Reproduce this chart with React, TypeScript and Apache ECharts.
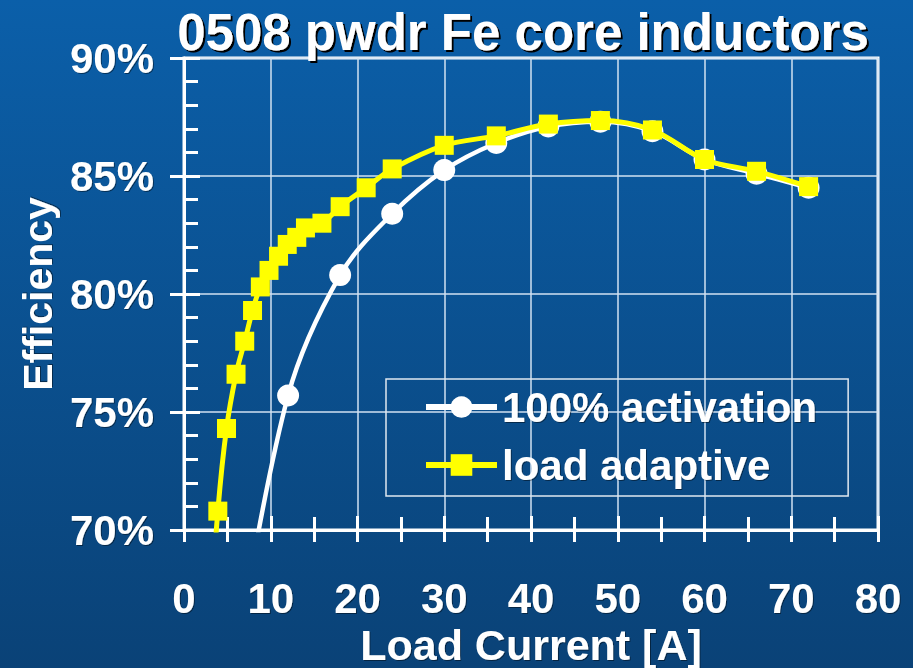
import React, { useEffect, useRef } from "react";
import * as echarts from "echarts";

const titleText = "0508 pwdr Fe core inductors";
const xAxisName = "Load Current [A]";
const yAxisName = "Efficiency";

const fullActCurrent = [6, 12, 18, 24, 30, 36, 42, 48, 54, 60, 66, 72];
const fullActEff = [64.5, 75.7, 80.8, 83.4, 85.25, 86.4, 87.1, 87.3, 86.9, 85.7, 85.1, 84.5];

const adaptiveCurrent = [3, 3.9, 4.9, 6, 7, 7.9, 8.8, 9.8, 10.9, 11.9, 13, 14, 15.9, 18, 21, 24, 30, 36, 42, 48, 54, 60, 66, 72];
const adaptiveEff = [66, 70.8, 74.3, 76.6, 78.0, 79.3, 80.3, 81.0, 81.6, 82.1, 82.4, 82.8, 83.0, 83.7, 84.5, 85.3, 86.3, 86.7, 87.2, 87.35, 86.95, 85.7, 85.2, 84.55];

const seriesNames = ["100% activation", "load adaptive"];

const FONT = "Liberation Sans, Arial, sans-serif";

export default function App() {
  const ref = useRef<HTMLDivElement>(null);
  useEffect(() => {
    if (!ref.current) return;
    const chart = echarts.init(ref.current, null, { renderer: "svg" });
    const labelStyle = {
      color: "#ffffff",
      fontWeight: "bold" as const,
      fontFamily: FONT,
      fontSize: 42,
      textShadowColor: "rgba(0,0,0,0.45)",
      textShadowOffsetX: 1,
      textShadowOffsetY: 1,
      textShadowBlur: 1,
    };
    chart.setOption({
      animation: false,
      backgroundColor: new echarts.graphic.LinearGradient(0, 0, 0, 1, [
        { offset: 0, color: "#0b5fa9" },
        { offset: 1, color: "#0a4277" },
      ]),
      title: {
        text: titleText,
        left: 518,
        textAlign: "center",
        top: 2,
        textStyle: {
          color: "#ffffff",
          fontWeight: "bold",
          fontFamily: FONT,
          fontSize: 51,
          textShadowColor: "#000000",
          textShadowOffsetX: 2,
          textShadowOffsetY: 2,
          textShadowBlur: 1,
        },
      },
      grid: {
        left: 184,
        right: 35,
        top: 58,
        bottom: 138,
        show: true,
        borderColor: "#ffffff",
        borderWidth: 3,
        backgroundColor: "transparent",
        outerBoundsMode: "none",
      },
      legend: {
        orient: "vertical",
        left: 386,
        top: 379,
        padding: [5, 31, 8, 37],
        itemWidth: 71,
        itemHeight: 27,
        itemGap: 12,
        borderColor: "#e0e8f0",
        borderWidth: 1.5,
        borderRadius: 0,
        backgroundColor: "transparent",
        lineStyle: { width: 6 },
        textStyle: { ...labelStyle, fontSize: 42, lineHeight: 46 },
        data: seriesNames,
      },
      xAxis: [
        {
          type: "value",
          min: 0,
          max: 80,
          interval: 10,
          name: xAxisName,
          nameLocation: "middle",
          nameGap: 80,
          nameTextStyle: { ...labelStyle, fontSize: 43 },
          axisLine: { show: true, onZero: false, lineStyle: { color: "#ffffff", width: 3 } },
          axisTick: { show: true, inside: true, length: 14, lineStyle: { color: "#ffffff", width: 3 } },
          minorTick: { show: true, splitNumber: 2, length: 13, lineStyle: { color: "#ffffff", width: 3 } },
          axisLabel: { ...labelStyle, margin: 47 },
          splitLine: { show: true, lineStyle: { color: "#d2e2f2", width: 1.5 } },
        },
        {
          type: "value",
          min: 0,
          max: 80,
          interval: 5,
          position: "bottom",
          axisLine: { show: false, onZero: false },
          axisTick: { show: true, inside: false, length: 12, lineStyle: { color: "#ffffff", width: 3 } },
          axisLabel: { show: false },
          splitLine: { show: false },
        },
      ],
      yAxis: [
        {
          type: "value",
          min: 70,
          max: 90,
          interval: 5,
          name: yAxisName,
          nameLocation: "middle",
          nameGap: 126,
          nameRotate: 90,
          nameTextStyle: { ...labelStyle, fontSize: 41 },
          axisLine: { show: true, onZero: false, lineStyle: { color: "#ffffff", width: 3 } },
          axisTick: { show: true, inside: true, length: 16, lineStyle: { color: "#ffffff", width: 3 } },
          minorTick: { show: true, splitNumber: 5, length: 14, lineStyle: { color: "#ffffff", width: 3 } },
          axisLabel: { ...labelStyle, margin: 30, formatter: "{value}%" },
          splitLine: { show: true, lineStyle: { color: "#d2e2f2", width: 1.5 } },
        },
        {
          type: "value",
          min: 70,
          max: 90,
          interval: 5,
          position: "left",
          axisLine: { show: false, onZero: false },
          axisTick: { show: true, inside: false, length: 14, lineStyle: { color: "#ffffff", width: 3 } },
          axisLabel: { show: false },
          splitLine: { show: false },
        },
      ],
      series: [
        {
          name: seriesNames[0],
          type: "line",
          data: fullActCurrent.map((x, i) => [x, fullActEff[i]]),
          smooth: 0.35,
          clip: true,
          symbol: "circle",
          symbolSize: 22,
          lineStyle: { color: "#ffffff", width: 4.5 },
          itemStyle: { color: "#ffffff" },
          z: 3,
        },
        {
          name: seriesNames[1],
          type: "line",
          data: adaptiveCurrent.map((x, i) => [x, adaptiveEff[i]]),
          smooth: 0.35,
          clip: true,
          symbol: "rect",
          symbolSize: 19,
          lineStyle: { color: "#ffff00", width: 5 },
          itemStyle: { color: "#ffff00" },
          z: 4,
        },
      ],
    });
    return () => chart.dispose();
  }, []);
  return <div ref={ref} style={{ width: 913, height: 668, position: "absolute", left: 0, top: 0 }} />;
}
